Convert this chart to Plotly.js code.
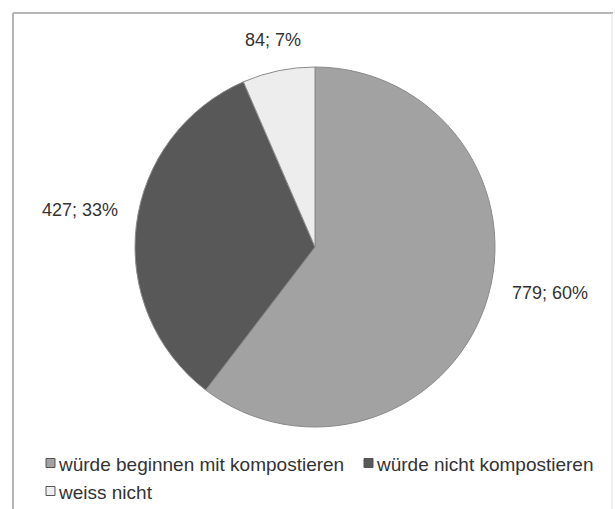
<!DOCTYPE html>
<html>
<head>
<meta charset="utf-8">
<script src="https://cdn.plot.ly/plotly-3.0.1.min.js"></script>
<style>
  html, body { margin: 0; padding: 0; background: #ffffff; }
  #chart { width: 615px; height: 509px; }
</style>
</head>
<body>
<div id="chart"></div>
<script>
// ---- data ----
const categories = ["würde beginnen mit kompostieren", "würde nicht kompostieren", "weiss nicht"];
const counts = [779, 427, 84];
const percentLabels = ["60%", "33%", "7%"];
const sliceColors = ["#a2a2a2", "#585858", "#ededed"];

// ---- layout helpers (pixel -> paper) ----
const W = 615, H = 509;
const px = x => x / W;
const py = y => 1 - y / H;

// pie geometry (pixels)
const cx = 315, cy = 247, R = 180;

// label centres (pixels), one per category
const labelCentres = [[550, 293], [80, 210], [273, 40]];

const annotations = categories.map((c, i) => ({
  xref: "paper", yref: "paper",
  x: px(labelCentres[i][0]), y: py(labelCentres[i][1]),
  xanchor: "center", yanchor: "middle",
  text: counts[i] + "; " + percentLabels[i],
  showarrow: false,
  font: { family: "Liberation Sans, Arial, sans-serif", size: 18, color: "#333333" }
}));

// custom legend
const legendItems = [[46, 463], [364, 463], [46, 491]];
const shapes = [];
categories.forEach((c, i) => {
  const [lx, ly] = legendItems[i];
  shapes.push({
    type: "rect", xref: "paper", yref: "paper",
    x0: px(lx), x1: px(lx + 9), y0: py(ly + 4.5), y1: py(ly - 4.5),
    fillcolor: sliceColors[i], line: { color: "#555555", width: 1 }
  });
  annotations.push({
    xref: "paper", yref: "paper",
    x: px(lx + 10), y: py(ly + 1),
    xanchor: "left", yanchor: "middle",
    text: c, showarrow: false,
    font: { family: "Liberation Sans, Arial, sans-serif", size: 19, color: "#333333" }
  });
});

// frame (left, top, right; bottom cut off)
shapes.push({ type: "line", xref: "paper", yref: "paper", x0: px(13), x1: px(13), y0: 0, y1: py(13), line: { color: "#b5b5b5", width: 2 } });
shapes.push({ type: "line", xref: "paper", yref: "paper", x0: px(13), x1: px(613), y0: py(13), y1: py(13), line: { color: "#b5b5b5", width: 2 } });
shapes.push({ type: "line", xref: "paper", yref: "paper", x0: px(612), x1: px(612), y0: 0, y1: py(13), line: { color: "#dddddd", width: 1 } });

const trace = {
  type: "pie",
  labels: categories,
  values: counts,
  sort: false,
  direction: "clockwise",
  rotation: 0,
  textinfo: "none",
  hoverinfo: "label+value+percent",
  marker: { colors: sliceColors, line: { color: "#8a8a8a", width: 1 } },
  domain: { x: [px(cx - R), px(cx + R)], y: [py(cy + R), py(cy - R)] },
  showlegend: false
};

const layout = {
  width: W, height: H,
  margin: { l: 0, r: 0, t: 0, b: 0 },
  paper_bgcolor: "#ffffff",
  plot_bgcolor: "#ffffff",
  showlegend: false,
  annotations: annotations,
  shapes: shapes
};

Plotly.newPlot("chart", [trace], layout, { displayModeBar: false, staticPlot: true });
</script>
</body>
</html>
